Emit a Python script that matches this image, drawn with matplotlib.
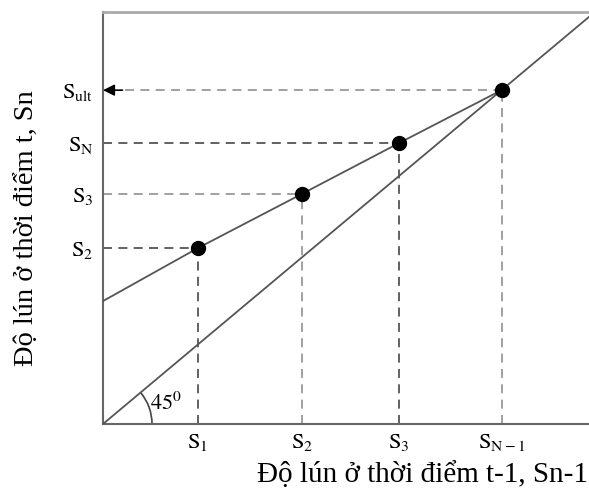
import numpy as np
import matplotlib
matplotlib.use('Agg')
import matplotlib.pyplot as plt
from matplotlib.patches import Arc

plt.rcParams['font.family'] = ['Liberation Serif', 'DejaVu Serif']
plt.rcParams['mathtext.fontset'] = 'stix'

# Settlement values (arbitrary units)
s_prev = [1.95, 4.09, 6.09, 8.20]      # S1, S2, S3, S(N-1)
s_curr = [4.32, 5.65, 6.90, 8.20]      # S2, S3, SN, Sult
s_intercept = 3.02                     # where the Sn line meets the vertical axis
x_labels = [r'$\mathrm{S}_{1}$', r'$\mathrm{S}_{2}$', r'$\mathrm{S}_{3}$', r'$\mathrm{S}_{\mathrm{N-1}}$']
y_labels = [r'$\mathrm{S}_{2}$', r'$\mathrm{S}_{3}$', r'$\mathrm{S}_{\mathrm{N}}$', r'$\mathrm{S}_{\mathrm{ult}}$']

fig = plt.figure(figsize=(5.89, 4.96), dpi=100)
ax = fig.add_axes([103 / 589, 72 / 496, 486 / 589, 412 / 496])
ax.set_xlim(0, 10)
ax.set_ylim(0, 10.12)

# 45 degree line
ax.plot([0, 10], [0, 10], color='#555555', lw=1.3, zorder=3)
# settlement line through the points
ax.plot([0] + s_prev, [s_intercept] + s_curr, color='#555555', lw=1.3, zorder=3)
ax.plot(s_prev, s_curr, 'o', color='black', ms=10, zorder=4)

# dashed guides
for i, (xp, yp) in enumerate(zip(s_prev, s_curr)):
    c = '#555555' if i in (0, 2) else '#999999'
    ax.plot([xp, xp], [0, yp], ls=(0, (5, 3.5)), color=c, lw=1.3, zorder=2)
    x0 = 0.45 if i == 3 else 0
    ax.plot([x0, xp], [yp, yp], ls=(0, (5, 3.5)), color=c, lw=1.3, zorder=2)

# arrow at Sult
ax.annotate('', xy=(0, s_curr[3]), xytext=(0.4, s_curr[3]),
            arrowprops=dict(arrowstyle='-|>', color='black', lw=1.2,
                            mutation_scale=17, shrinkA=0, shrinkB=0))

# 45 degree arc
ax.add_patch(Arc((0, 0), 2 * 49 / 48.6, 2 * 49 / 40.7, theta1=0, theta2=45,
                 color='#444444', lw=1.2))
ax.text(1.3, 0.5, r'$45^{0}$', fontsize=16, ha='center', va='center')

ax.set_xticks(s_prev)
ax.set_xticklabels(x_labels, fontsize=16)
ax.set_yticks(s_curr)
ax.set_yticklabels(y_labels, fontsize=16)
ax.tick_params(length=0)
ax.tick_params(axis='x', pad=6)
ax.tick_params(axis='y', pad=7)

ax.spines['right'].set_visible(False)
for side in ('left', 'bottom'):
    ax.spines[side].set_color('#666666')
    ax.spines[side].set_linewidth(1.5)
ax.spines['top'].set_color('#aaaaaa')
ax.spines['top'].set_linewidth(2)

fig.text(27 / 589, 1 - 228 / 496, 'Độ lún ở thời điểm t, Sn', rotation=90,
         ha='center', va='center', fontsize=20.5)
fig.text(0.998, 1 - 475 / 496, 'Độ lún ở thời điểm t-1, Sn-1',
         ha='right', va='center', fontsize=21)

fig.savefig('out.png', dpi=100)
